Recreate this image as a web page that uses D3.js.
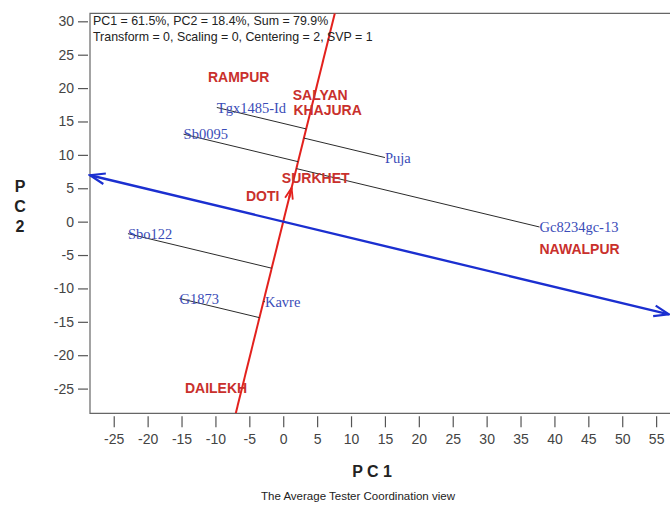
<!DOCTYPE html>
<html>
<head>
<meta charset="utf-8">
<title>Average Tester Coordination view</title>
<script src="https://cdnjs.cloudflare.com/ajax/libs/d3/7.8.5/d3.min.js"></script>
<style>
  body { margin: 0; background: #fff; }
  svg { font-family: "Liberation Sans", Arial, sans-serif; }
</style>
</head>
<body>
<svg id="chart" width="670" height="510"></svg>
<script>
// entries (genotypes) -- blue labels
const genotypes = ["Tgx1485-Id", "Sb0095", "Puja", "Gc8234gc-13", "Sbo122", "G1873", "Kavre"];
const genoPC1 = [-9.8, -14.7, 15.0, 37.8, -22.9, -15.3, -2.7];
const genoPC2 = [17.1, 13.1, 9.6, -0.8, -1.8, -11.5, -12.0];

// testers (locations) -- red labels
const testers = ["RAMPUR", "SALYAN", "KHAJURA", "SURKHET", "DOTI", "NAWALPUR", "DAILEKH"];
const testPC1 = [-11.1, 1.4, 1.5, -0.2, -5.5, 37.8, -14.5];
const testPC2 = [21.7, 18.9, 16.7, 6.6, 3.9, -4.1, -24.9];

// average tester direction and marker on the ordinate
const avgTester = [4.1, -1.0];
const atcMark = 5.2;

const xTicks = [-25, -20, -15, -10, -5, 0, 5, 10, 15, 20, 25, 30, 35, 40, 45, 50, 55];
const yTicks = [-25, -20, -15, -10, -5, 0, 5, 10, 15, 20, 25, 30];
const header = ["PC1 = 61.5%, PC2 = 18.4%, Sum = 79.9%",
                "Transform = 0, Scaling = 0, Centering = 2, SVP = 1"];

const svg = d3.select("#chart");
const plotLeft = 90, plotTop = 13.3, plotBottom = 413.3;

const x = d3.scaleLinear().domain([-28.5, 56.9]).range([plotLeft, plotLeft + 85.4 * 6.78]);
const y = d3.scaleLinear().domain([-28.7, 31.2]).range([plotBottom, plotTop]);
const xMin = x.domain()[0], xMax = x.domain()[1];
const yMin = y.domain()[0], yMax = y.domain()[1];

const defs = svg.append("defs");
defs.append("clipPath").attr("id", "clip")
  .append("rect").attr("x", plotLeft).attr("y", plotTop)
  .attr("width", 700 - plotLeft).attr("height", plotBottom - plotTop);

// frame (right side runs off the picture)
svg.append("path")
  .attr("d", `M700,${plotTop}H${plotLeft}V${plotBottom}H700`)
  .attr("fill", "none").attr("stroke", "#666").attr("stroke-width", 1.2);

// axes -- plain hyphen minus like the original software
const fmt = d => String(d);
const gy = svg.append("g").attr("transform", `translate(${plotLeft - 2},0)`)
  .call(d3.axisLeft(y).tickValues(yTicks).tickFormat(fmt).tickSize(10).tickPadding(4));
const gx = svg.append("g").attr("transform", `translate(0,${plotBottom + 3})`)
  .call(d3.axisBottom(x).tickValues(xTicks).tickFormat(fmt).tickSize(11).tickPadding(7));
[gx, gy].forEach(g => {
  g.select(".domain").remove();
  g.selectAll(".tick line").attr("stroke", "#555").attr("stroke-width", 1.2);
  g.selectAll(".tick text").attr("fill", "#444").style("font-size", "14px")
    .style("font-family", "Liberation Sans, Arial, sans-serif");
});

// unit vectors of the ATC abscissa (u) and ordinate (v)
const len = Math.hypot(avgTester[0], avgTester[1]);
const u = [avgTester[0] / len, avgTester[1] / len];
const v = [-u[1], u[0]];

function arrow(id, color, size, w) {
  defs.append("marker").attr("id", id)
    .attr("markerUnits", "userSpaceOnUse")
    .attr("viewBox", `${-size - 2} ${-size} ${size + 4} ${size * 2}`)
    .attr("refX", 0).attr("refY", 0)
    .attr("markerWidth", size + 4).attr("markerHeight", size * 2)
    .attr("orient", "auto-start-reverse")
    .append("path")
    .attr("d", `M${-size},${-size * 0.36}L0,0L${-size},${size * 0.36}`)
    .attr("fill", "none").attr("stroke", color).attr("stroke-width", w);
}
arrow("blueHead", "#1b2fd0", 15, 2.2);
arrow("redHead", "#e3211d", 11, 1.8);

const plot = svg.append("g").attr("clip-path", "url(#clip)");

// ordinate (red) through the origin
const tLow = yMin / v[1], tHigh = yMax / v[1];
plot.append("line")
  .attr("x1", x(v[0] * tLow)).attr("y1", y(v[1] * tLow))
  .attr("x2", x(v[0] * tHigh)).attr("y2", y(v[1] * tHigh))
  .attr("stroke", "#e3211d").attr("stroke-width", 2);

// small arrow on the ordinate
svg.append("line")
  .attr("x1", x(v[0] * (atcMark - 1.5))).attr("y1", y(v[1] * (atcMark - 1.5)))
  .attr("x2", x(v[0] * atcMark)).attr("y2", y(v[1] * atcMark))
  .attr("stroke", "#e3211d").attr("stroke-width", 2)
  .attr("marker-end", "url(#redHead)");

// projections of entries onto the ordinate (parallel to the ATC abscissa)
const geno = genotypes.map((name, i) => {
  const d = genoPC1[i] * u[0] + genoPC2[i] * u[1];
  return { name, px: genoPC1[i], py: genoPC2[i], fx: genoPC1[i] - d * u[0], fy: genoPC2[i] - d * u[1] };
});
plot.selectAll("line.proj").data(geno).join("line").attr("class", "proj")
  .attr("x1", d => x(d.px)).attr("y1", d => y(d.py))
  .attr("x2", d => x(d.fx)).attr("y2", d => y(d.fy))
  .attr("stroke", "#2b2b2b").attr("stroke-width", 1);

// ATC abscissa (blue) with arrows on both ends
const sLow = xMin / u[0], sHigh = xMax / u[0];
svg.append("line")
  .attr("x1", x(u[0] * sLow)).attr("y1", y(u[1] * sLow))
  .attr("x2", x(u[0] * sHigh)).attr("y2", y(u[1] * sHigh))
  .attr("stroke", "#1b2fd0").attr("stroke-width", 2.4)
  .attr("marker-start", "url(#blueHead)")
  .attr("marker-end", "url(#blueHead)");

// labels
svg.selectAll("text.geno").data(geno).join("text").attr("class", "geno")
  .attr("x", d => x(d.px)).attr("y", d => y(d.py)).attr("dy", "0.35em")
  .attr("fill", "#3a4cb8")
  .style("font-family", "Liberation Serif, Times New Roman, serif")
  .style("font-size", "14.5px")
  .text(d => d.name);

svg.selectAll("text.tester").data(testers).join("text").attr("class", "tester")
  .attr("x", (d, i) => x(testPC1[i])).attr("y", (d, i) => y(testPC2[i])).attr("dy", "0.36em")
  .attr("fill", "#c9302c").attr("font-weight", "bold")
  .style("font-size", "14px")
  .text(d => d);

// header
svg.selectAll("text.header").data(header).join("text").attr("class", "header")
  .attr("x", 93).attr("y", (d, i) => 25 + i * 15.5)
  .attr("fill", "#222").style("font-size", "12.4px")
  .text(d => d);

// axis titles
svg.append("text").attr("x", 372).attr("y", 477).attr("text-anchor", "middle")
  .attr("font-weight", "bold").style("font-size", "16px").attr("fill", "#222")
  .text("P C 1");
svg.selectAll("text.ytitle").data(["P", "C", "2"]).join("text").attr("class", "ytitle")
  .attr("x", 20).attr("y", (d, i) => 192 + i * 20).attr("text-anchor", "middle")
  .attr("font-weight", "bold").style("font-size", "16px").attr("fill", "#222")
  .text(d => d);

svg.append("text").attr("x", 358).attr("y", 500).attr("text-anchor", "middle")
  .style("font-size", "11.5px").attr("fill", "#222")
  .text("The Average Tester Coordination view");
</script>
</body>
</html>
